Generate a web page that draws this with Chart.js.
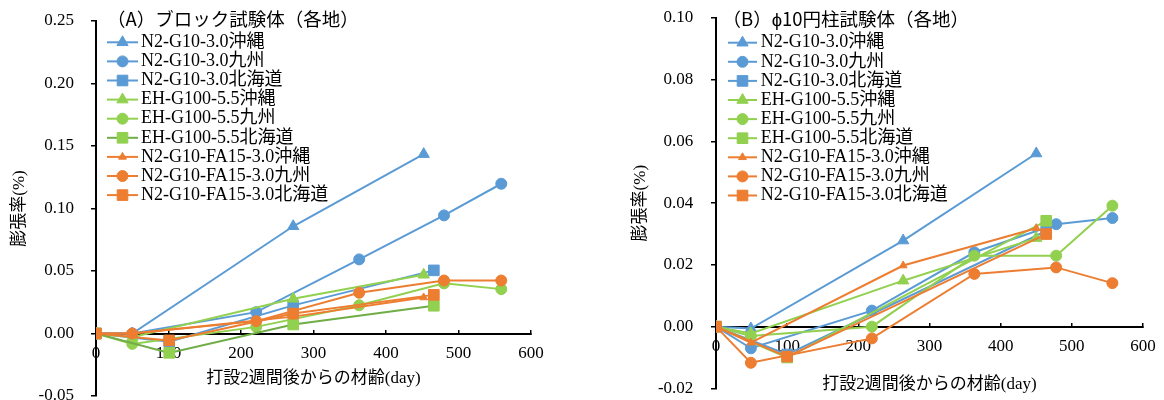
<!DOCTYPE html>
<html>
<head>
<meta charset="utf-8">
<script src="https://cdn.jsdelivr.net/npm/chart.js@4.4.1/dist/chart.umd.min.js"></script>
<style>
  html, body { margin: 0; padding: 0; background: #fff; }
  #wrapA { position: absolute; left: 0; top: 0; width: 580px; height: 400px; }
  #wrapB { position: absolute; left: 590px; top: 0; width: 574px; height: 400px; }
</style>
</head>
<body>
<div id="wrapA"><canvas id="chartA"></canvas></div>
<div id="wrapB"><canvas id="chartB"></canvas></div>
<script>
// series names (same order in both charts)
const seriesNames = [
  'N2-G10-3.0沖縄', 'N2-G10-3.0九州', 'N2-G10-3.0北海道',
  'EH-G100-5.5沖縄', 'EH-G100-5.5九州', 'EH-G100-5.5北海道',
  'N2-G10-FA15-3.0沖縄', 'N2-G10-FA15-3.0九州', 'N2-G10-FA15-3.0北海道'
];

// (A) block specimens - ages (day)
const daysA_oki = [0, 50, 272, 452];
const daysA_kyu = [0, 50, 221, 363, 480, 559];
const daysA_hok = [0, 101, 272, 466];
// (A) expansion (%)
const A_N2_oki = [0, 0, 0.0858, 0.1435];
const A_N2_kyu = [0, 0, 0.0171, 0.0593, 0.0945, 0.1198];
const A_N2_hok = [0, -0.0065, 0.0225, 0.0505];
const A_EH_oki = [0, -0.003, 0.0278, 0.0470];
const A_EH_kyu = [0, -0.0083, 0.0053, 0.0226, 0.0401, 0.0355];
const A_EH_hok = [0, -0.0155, 0.0072, 0.0222];
const A_FA_oki = [0, 0, 0.0135, 0.0288];
const A_FA_kyu = [0, 0, 0.0099, 0.0326, 0.0424, 0.0424];
const A_FA_hok = [0, -0.0055, 0.0160, 0.0309];

// (B) phi10 cylinder specimens - ages (day)
const daysB_oki = [0, 49, 263, 450];
const daysB_kyu = [0, 49, 219, 363, 478, 557];
const daysB_hok = [0, 100, 464];
// (B) expansion (%)
const B_N2_oki = [0, -0.0006, 0.0279, 0.0561];
const B_N2_kyu = [0, -0.0070, 0.0052, 0.0241, 0.0332, 0.0352];
const B_N2_hok = [0, -0.0090, 0.0310];
const B_EH_oki = [0, -0.0022, 0.0149, 0.0287];
const B_EH_kyu = [0, -0.0030, 0.0000, 0.0230, 0.0230, 0.0392];
const B_EH_hok = [0, -0.0100, 0.0343];
const B_FA_oki = [0, -0.0052, 0.0198, 0.0319];
const B_FA_kyu = [0, -0.0117, -0.0038, 0.0171, 0.0192, 0.0141];
const B_FA_hok = [0, -0.0097, 0.0300];

const BLUE = '#5B9BD5', GREEN = '#92D050', DKGREEN = '#70AD47', ORANGE = '#ED7D31';
const SERIF = "'Liberation Serif', 'Noto Sans CJK JP', serif";

function pts(days, vals) {
  return days.map((d, i) => ({x: d, y: vals[i]}));
}

function makeDatasets(list, hokGreenLine) {
  const colors = [BLUE, BLUE, BLUE, GREEN, GREEN, GREEN, ORANGE, ORANGE, ORANGE];
  const styles = ['triangle', 'circle', 'rect'];
  const radii = [6.5, 5.5, 7.5, 6.5, 5.5, 7.5, 4.5, 5.5, 7.5];
  return list.map((p, i) => ({
    label: seriesNames[i],
    data: pts(p[0], p[1]),
    showLine: true,
    borderColor: (i === 5 && hokGreenLine) ? hokGreenLine : colors[i],
    borderWidth: 2,
    pointStyle: styles[i % 3],
    pointRadius: radii[i],
    pointBackgroundColor: colors[i],
    pointBorderColor: colors[i],
    pointBorderWidth: 1,
    order: 8 - i
  }));
}

// legend + panel title drawn inside the plot area
const boxLegend = {
  id: 'boxLegend',
  afterDraw(chart, args, opts) {
    const ctx = chart.ctx;
    ctx.save();
    ctx.textBaseline = 'middle';
    ctx.textAlign = 'left';
    ctx.fillStyle = '#000';
    ctx.font = "18.5px 'Noto Sans CJK JP', sans-serif";
    ctx.fillText(opts.title, opts.titleX, opts.titleY);
    ctx.font = '18px ' + SERIF;
    chart.data.datasets.forEach((ds, i) => {
      const y = opts.y + i * opts.rowH;
      ctx.strokeStyle = ds.borderColor;
      ctx.lineWidth = ds.borderWidth;
      ctx.beginPath();
      ctx.moveTo(opts.x, y);
      ctx.lineTo(opts.x + opts.lineLen, y);
      ctx.stroke();
      ctx.fillStyle = ds.pointBackgroundColor;
      ctx.strokeStyle = ds.pointBorderColor;
      ctx.lineWidth = 1;
      Chart.helpers.drawPoint(ctx, {pointStyle: ds.pointStyle, radius: ds.pointRadius, borderWidth: 1, rotation: 0},
        opts.x + opts.lineLen / 2, y);
      ctx.fillStyle = '#000';
      ctx.fillText(ds.label, opts.x + opts.lineLen + opts.gap, y);
    });
    ctx.restore();
  }
};

function buildChart(id, cfg) {
  const ctx = document.getElementById(id).getContext('2d');
  return new Chart(ctx, {
    type: 'scatter',
    data: {datasets: cfg.datasets},
    plugins: [boxLegend],
    options: {
      responsive: true,
      maintainAspectRatio: false,
      animation: false,
      devicePixelRatio: 1,
      layout: {padding: cfg.padding, autoPadding: false},
      scales: {
        x: {
          type: 'linear',
          position: {y: 0},
          min: 0, max: 600,
          ticks: {stepSize: 100, color: '#000', padding: 15, font: {family: SERIF, size: 17}},
          grid: {display: true, drawOnChartArea: false, drawTicks: true, tickLength: -5, color: '#000', lineWidth: 1.5},
          border: {display: true, color: '#000', width: 2},
          title: {display: true, text: '打設2週間後からの材齢(day)', color: '#000',
                  font: {family: SERIF, size: 17}, padding: {top: 0, bottom: 0.5}},
          afterFit: (s) => {
            s.height = cfg.xHeight;
            s.paddingLeft = 0; s.paddingRight = 0;
          }
        },
        y: {
          type: 'linear',
          min: cfg.yMin, max: cfg.yMax,
          ticks: {stepSize: cfg.yStep, color: '#000', padding: cfg.yPad, font: {family: SERIF, size: 17},
                  callback: (v) => (Math.abs(v) < 1e-9 ? 0 : v).toFixed(2)},
          grid: {display: true, drawOnChartArea: false, drawTicks: true, tickLength: 5, color: '#000', lineWidth: 1.5},
          border: {display: true, color: '#000', width: 2},
          title: {display: true, text: '膨張率(%)', color: '#000',
                  font: {family: SERIF, size: 17}, padding: {top: cfg.yTitlePad, bottom: 0}},
          afterFit: (s) => {
            s.width = cfg.yWidth;
            s.paddingTop = 0; s.paddingBottom = 0;
          }
        }
      },
      plugins: {
        legend: {display: false},
        tooltip: {enabled: false},
        boxLegend: cfg.legend
      }
    }
  });
}

buildChart('chartA', {
  datasets: makeDatasets([
    [daysA_oki, A_N2_oki], [daysA_kyu, A_N2_kyu], [daysA_hok, A_N2_hok],
    [daysA_oki, A_EH_oki], [daysA_kyu, A_EH_kyu], [daysA_hok, A_EH_hok],
    [daysA_oki, A_FA_oki], [daysA_kyu, A_FA_kyu], [daysA_hok, A_FA_hok]
  ], DKGREEN),
  yMin: -0.05, yMax: 0.25, yStep: 0.05, yPad: 17, yWidth: 96, yTitlePad: 9,
  xHeight: 56,
  padding: {left: 0, top: 21, right: 49, bottom: 4},
  legend: {title: '（A）ブロック試験体（各地）', titleX: 107, titleY: 18.5,
           x: 107, y: 42.3, rowH: 19.1, lineLen: 31, gap: 3}
});

buildChart('chartB', {
  datasets: makeDatasets([
    [daysB_oki, B_N2_oki], [daysB_kyu, B_N2_kyu], [daysB_hok, B_N2_hok],
    [daysB_oki, B_EH_oki], [daysB_kyu, B_EH_kyu], [daysB_hok, B_EH_hok],
    [daysB_oki, B_FA_oki], [daysB_kyu, B_FA_kyu], [daysB_hok, B_FA_hok]
  ], null),
  yMin: -0.02, yMax: 0.10, yStep: 0.02, yPad: 17.7, yWidth: 126, yTitlePad: 40,
  xHeight: 69,
  padding: {left: 0, top: 18, right: 21, bottom: 11.6},
  legend: {title: '（B）ϕ10円柱試験体（各地）', titleX: 132.5, titleY: 18.5,
           x: 138, y: 42.7, rowH: 19.1, lineLen: 29, gap: 3.7}
});
</script>
</body>
</html>
